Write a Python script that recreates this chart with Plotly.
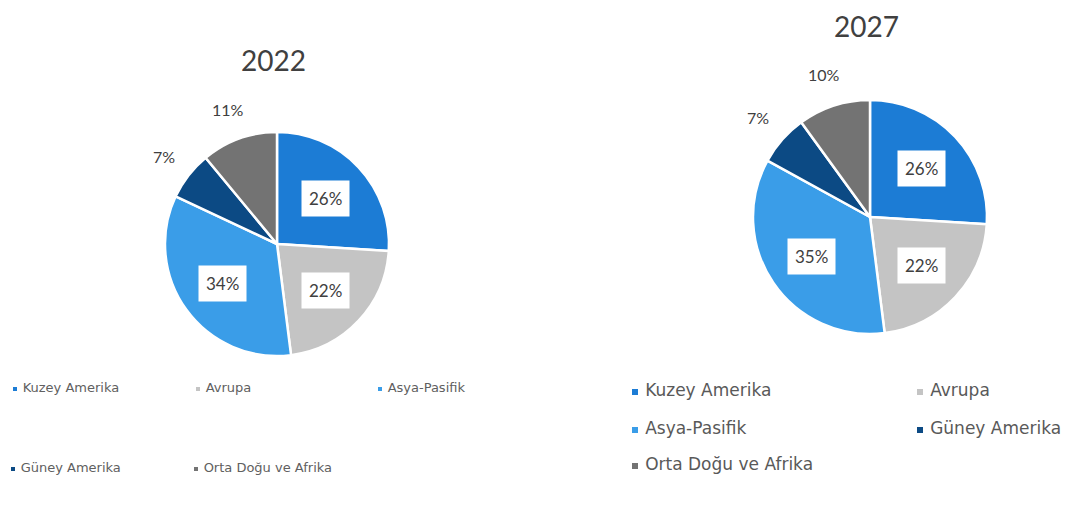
import math
import plotly.graph_objects as go

W, H = 1086, 508

regions = ["Kuzey Amerika", "Avrupa", "Asya-Pasifik", "Güney Amerika", "Orta Doğu ve Afrika"]
shares_2022 = [26, 22, 34, 7, 11]
shares_2027 = [26, 22, 35, 7, 10]
titles = ["2022", "2027"]
colors = ["#1c7cd5", "#c4c4c4", "#3a9de8", "#0c4a84", "#737373"]

# geometry (pixels) : center x, center y, radius
pies = [
    dict(cx=277, cy=244, r=112, vals=shares_2022, title=titles[0], tx=273, ty=60, tsize=28, lsize=17),
    dict(cx=870, cy=217, r=117, vals=shares_2027, title=titles[1], tx=866, ty=26, tsize=28, lsize=17),
]

fig = go.Figure()
annotations = []
for p in pies:
    x0 = (p["cx"] - p["r"]) / W
    x1 = (p["cx"] + p["r"]) / W
    y0 = 1 - (p["cy"] + p["r"]) / H
    y1 = 1 - (p["cy"] - p["r"]) / H
    fig.add_trace(go.Pie(
        labels=regions, values=p["vals"], sort=False, direction="clockwise", rotation=0,
        marker=dict(colors=colors, line=dict(color="white", width=2.5)),
        textinfo="none", hoverinfo="label+percent", showlegend=False,
        domain=dict(x=[x0, x1], y=[y0, y1]),
    ))
    annotations.append(dict(x=p["tx"], y=p["ty"], xref="x", yref="y", text=p["title"],
                             showarrow=False, font=dict(size=p["tsize"], color="#404040", family="Lato")))
    total = sum(p["vals"])
    cum = 0
    for v in p["vals"]:
        mid = (cum + v / 2) / total * 360
        cum += v
        ang = math.radians(90 - mid)
        inside = v >= 15
        f = 0.6 if inside else 1.28
        lx = p["cx"] + f * p["r"] * math.cos(ang)
        ly = p["cy"] - f * p["r"] * math.sin(ang)
        annotations.append(dict(
            x=lx, y=ly, xref="x", yref="y", text=f"{v}%", showarrow=False,
            font=dict(size=p["lsize"] if inside else p["lsize"] - 1, color="#404040", family="Lato"),
            bgcolor="white" if inside else "rgba(0,0,0,0)", borderpad=7 if inside else 0,
        ))

# legends (drawn as scatter markers + text)
leg1_x = [15, 198, 380, 13, 196]
leg1_y = [389, 389, 389, 469, 469]
leg2_x = [635, 920, 635, 920, 635]
leg2_y = [392, 392, 430, 430, 466]
fig.add_trace(go.Scatter(
    x=leg1_x, y=leg1_y, mode="markers+text", text=[" " + r for r in regions],
    textposition="middle right", marker=dict(symbol="square", size=4, color=colors),
    textfont=dict(size=13, color="#606060", family="DejaVu Sans"), showlegend=False, hoverinfo="skip",
))
fig.add_trace(go.Scatter(
    x=leg2_x, y=leg2_y, mode="markers+text", text=[" " + r for r in regions],
    textposition="middle right", marker=dict(symbol="square", size=6, color=colors),
    textfont=dict(size=17, color="#595959", family="DejaVu Sans"), showlegend=False, hoverinfo="skip",
))

fig.update_layout(
    width=W, height=H, margin=dict(l=0, r=0, t=0, b=0),
    paper_bgcolor="white", plot_bgcolor="white",
    xaxis=dict(range=[0, W], visible=False, domain=[0, 1], fixedrange=True),
    yaxis=dict(range=[H, 0], visible=False, domain=[0, 1], fixedrange=True),
    annotations=annotations,
)
fig.write_html("out.html", config={"displayModeBar": False},
               post_script="document.body.style.margin='0';")
